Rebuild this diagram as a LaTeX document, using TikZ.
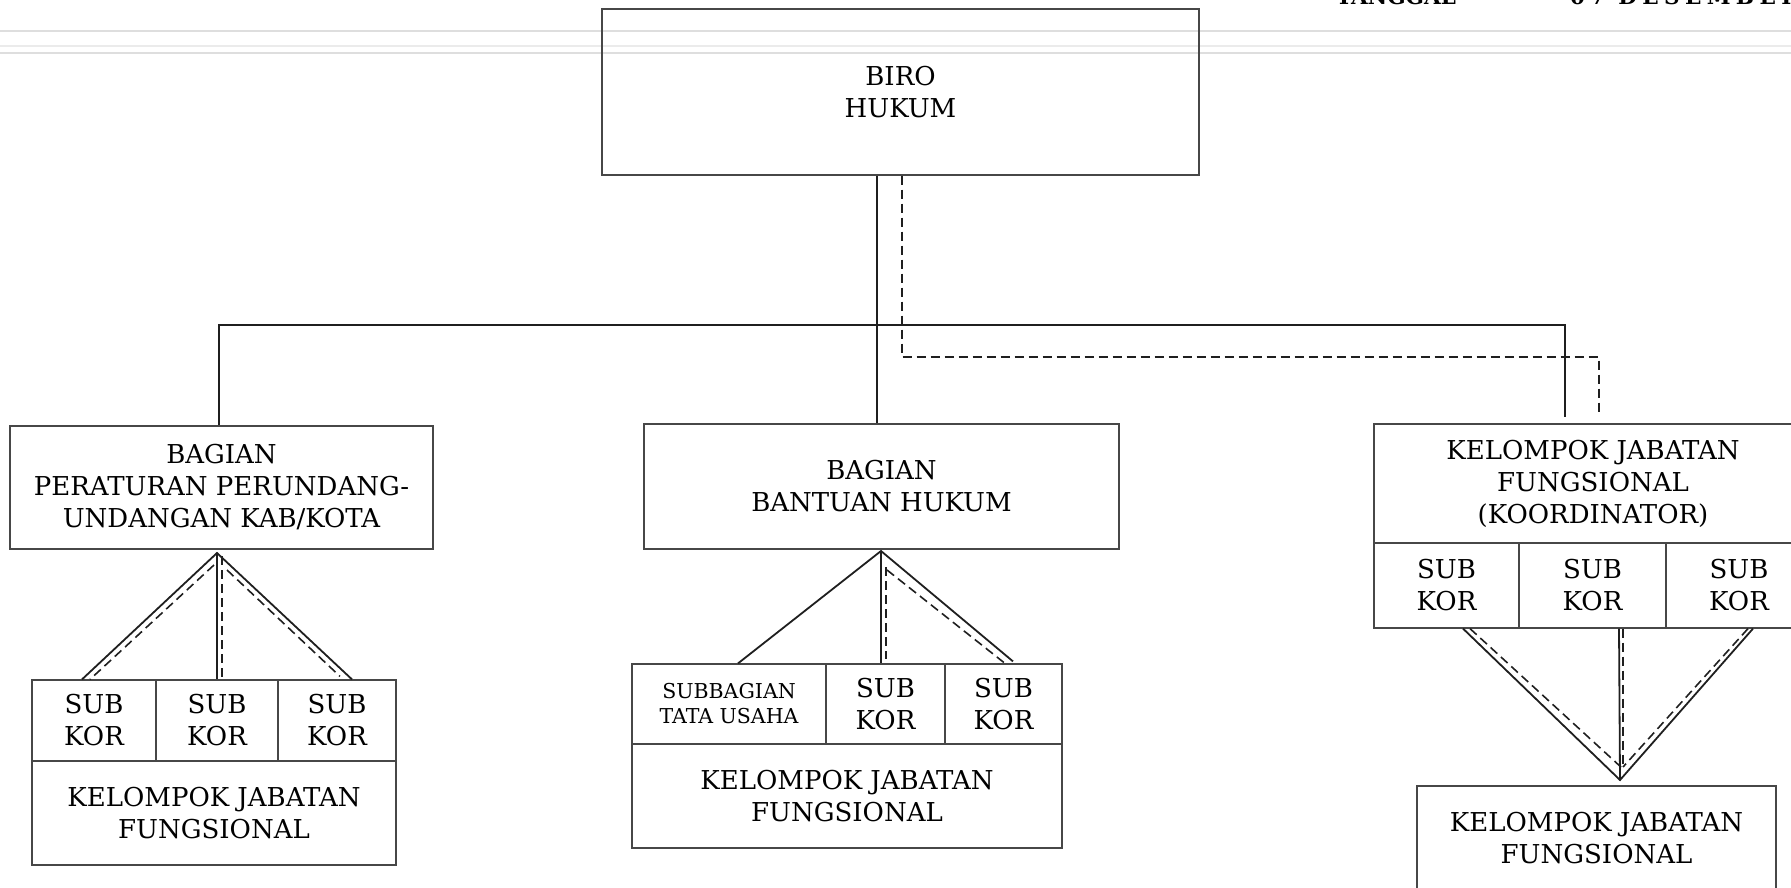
\documentclass[tikz,border=0pt]{standalone}
\usepackage{fontspec}
\setmainfont{DejaVu Serif}
\usetikzlibrary{calc}
\begin{document}
\begin{tikzpicture}[x=1pt,y=-1pt,
  box/.style={draw=black!72, line width=1.2pt, inner sep=0pt, align=center,
    font=\fontsize{26}{32}\selectfont},
  smallbox/.style={box, font=\fontsize{20.5}{25}\selectfont},
  con/.style={line width=1.8pt, draw=black!88},
  dsh/.style={con, line width=1.6pt, dash pattern=on 9pt off 5pt},
  scanline/.style={line width=1.6pt, draw=black!13},
  header/.style={font=\fontsize{21.5}{26}\selectfont\bfseries, inner sep=0pt, anchor=base west}]
\useasboundingbox (0,0) rectangle (1791,888);
\clip (0,0) rectangle (1791,888);

% faint rules of the page header
\draw[scanline] (0,31) -- (1791,31);
\draw[scanline, draw=black!8] (0,46) -- (1791,46);
\draw[scanline] (0,53) -- (1791,53);
\node[header] (tgl) at (1336,5) {TANGGAL};
\node[header] (tglv) at (1570,5) {\addfontfeatures{LetterSpace=25}07 DESEMBER};

% head of the bureau
\node[box, minimum width=597pt, minimum height=166pt] (biro) at (900.5,92) {BIRO\\HUKUM};

% second level
\node[box, minimum width=423pt, minimum height=123pt] (bag1) at (221.5,487.5)
  {BAGIAN\\PERATURAN PERUNDANG-\\UNDANGAN KAB/KOTA};
\node[box, minimum width=475pt, minimum height=125pt] (bag2) at (881.5,486.5)
  {BAGIAN\\BANTUAN HUKUM};
\node[box, minimum width=438pt, minimum height=119pt] (kjk) at (1593,483.5)
  {KELOMPOK JABATAN\\FUNGSIONAL\\(KOORDINATOR)};

% left group
\node[box, minimum width=124pt, minimum height=81pt] (sl1) at (94,720.5) {SUB\\KOR};
\node[box, minimum width=122pt, minimum height=81pt] (sl2) at (217,720.5) {SUB\\KOR};
\node[box, minimum width=118pt, minimum height=81pt] (sl3) at (337,720.5) {SUB\\KOR};
\node[box, minimum width=364pt, minimum height=104pt] (kl) at (214,813)
  {KELOMPOK JABATAN\\FUNGSIONAL};

% middle group
\node[smallbox, minimum width=194pt, minimum height=80pt] (sm1) at (729,704) {SUBBAGIAN\\TATA USAHA};
\node[box, minimum width=119pt, minimum height=80pt] (sm2) at (885.5,704) {SUB\\KOR};
\node[box, minimum width=117pt, minimum height=80pt] (sm3) at (1003.5,704) {SUB\\KOR};
\node[box, minimum width=430pt, minimum height=104pt] (km) at (847,796)
  {KELOMPOK JABATAN\\FUNGSIONAL};

% right group
\node[box, minimum width=145pt, minimum height=85pt] (sr1) at (1446.5,585.5) {SUB\\KOR};
\node[box, minimum width=147pt, minimum height=85pt] (sr2) at (1592.5,585.5) {SUB\\KOR};
\node[box, minimum width=146pt, minimum height=85pt] (sr3) at (1739,585.5) {SUB\\KOR};
\node[box, minimum width=359pt, minimum height=104pt] (kr) at (1596.5,838)
  {KELOMPOK JABATAN\\FUNGSIONAL};

% junction points of the main lines
\coordinate (trunk) at (877,325);
\coordinate (hl) at (219,325);
\coordinate (hr) at (1565,325);
\coordinate (dt) at (902,357);
\coordinate (dr) at (1599,357);

% line of command
\draw[con] (trunk |- biro.south) -- (trunk |- bag2.north);
\draw[con] (hl |- bag1.north) -- (hl) -- (hr) -- ($(hr |- kjk.north)+(0,-6)$);
% line of coordination
\draw[dsh] (dt |- biro.south) -- (dt) -- (dr) -- ($(dr |- kjk.north)+(0,-10)$);

% left fan
\coordinate (apL) at (217,553);
\draw[con] ($(sl1.north)+(-12,0)$) -- (apL) -- ($(sl3.north)+(15,0)$);
\draw[con] (apL) -- (sl2.north);
\draw[dsh] ($(apL)+(-3,12)$) -- ($(sl1.north)+(-4,0)$);
\draw[dsh] ($(apL)+(5,3)$) -- ($(sl2.north)+(5,0)$);
\draw[dsh] ($(apL)+(10,17)$) -- ($(sl3.north)+(3,-3)$);

% middle fan
\coordinate (apM) at (881,551);
\draw[con] ($(sm1.north)+(9,0)$) -- (apM) -- ($(sm3.north)+(9.5,-2)$);
\draw[con] (apM) -- ($(sm2.north)+(-4.5,0)$);
\draw[dsh] ($(apM)+(5,16)$) -- ($(sm2.north)+(0.5,-4)$);
\draw[dsh] ($(apM)+(6,19)$) -- ($(sm3.north)+(1.5,0)$);

% right fan
\coordinate (apR) at (1620,780);
\draw[con] ($(sr1.south)+(16.5,0)$) -- (apR) -- ($(sr3.south)+(14,0)$);
\draw[con] ($(sr2.south)+(26.5,0)$) -- (apR);
\draw[dsh] ($(sr1.south)+(23.5,0)$) -- (1622,768);
\draw[dsh] ($(sr2.south)+(30.5,0)$) -- (1623,768);
\draw[dsh] ($(sr3.south)+(9,0)$) -- (1623,767);
\end{tikzpicture}
\end{document}
